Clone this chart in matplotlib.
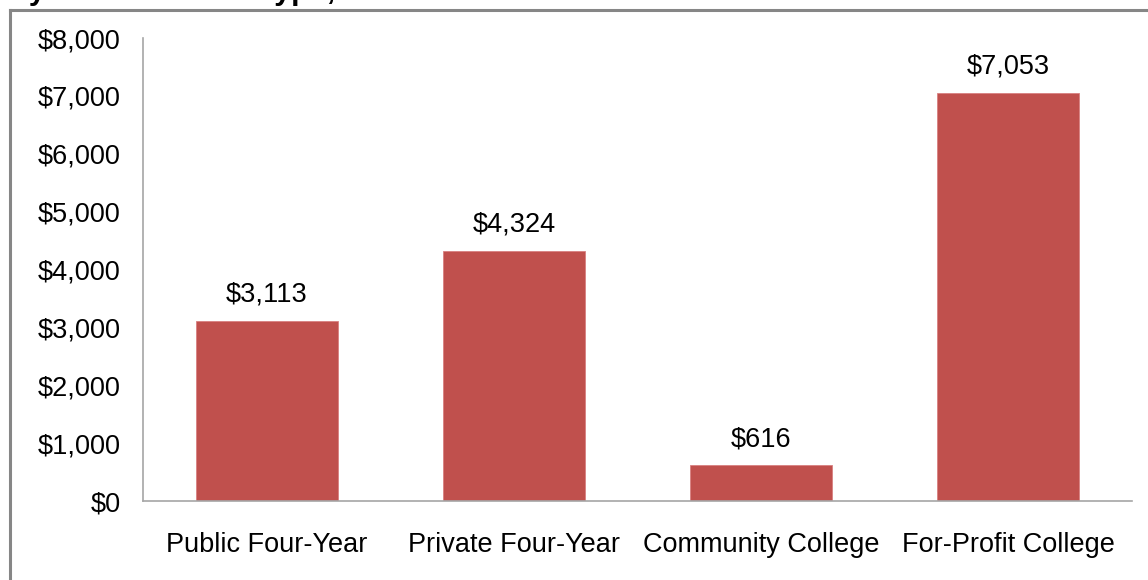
import matplotlib
matplotlib.use("Agg")
import matplotlib.pyplot as plt
from matplotlib.lines import Line2D

categories = ["Public Four-Year", "Private Four-Year", "Community College", "For-Profit College"]
values = [3113, 4324, 616, 7053]
yticks = [0, 1000, 2000, 3000, 4000, 5000, 6000, 7000, 8000]
ytick_labels = ["$0", "$1,000", "$2,000", "$3,000", "$4,000", "$5,000", "$6,000", "$7,000", "$8,000"]
value_labels = ["$3,113", "$4,324", "$616", "$7,053"]

plt.rcParams['font.family'] = ['Liberation Sans', 'DejaVu Sans']

W, H = 1148, 580
fig = plt.figure(figsize=(W / 100, H / 100), dpi=100)
fig.patch.set_facecolor("white")

left, right, top, bottom = 143, 1132, 38, 501
ax = fig.add_axes([left / W, 1 - bottom / H, (right - left) / W, (bottom - top) / H])

x = list(range(len(categories)))
ax.bar(x, values, width=0.575, color="#C0504D", edgecolor="#D98080", linewidth=0.6, zorder=2)
ax.set_xlim(-0.5, len(categories) - 0.5)
ax.set_ylim(0, 8000)
ax.set_yticks(yticks)
ax.set_yticklabels(ytick_labels)
ax.set_xticks(x)
ax.set_xticklabels(categories)
ax.tick_params(axis="both", length=0, labelsize=19.5, colors="black")
ax.tick_params(axis="y", pad=16)
ax.tick_params(axis="x", pad=22)

for s in ["top", "right"]:
    ax.spines[s].set_visible(False)
for s in ["left", "bottom"]:
    ax.spines[s].set_color("#A6A6A6")
    ax.spines[s].set_linewidth(1.2)

for xi, v, lab in zip(x, values, value_labels):
    ax.annotate(lab, (xi, v), xytext=(0, 9.5), textcoords="offset points",
                ha="center", va="bottom", fontsize=19.5, color="black")

# outer frame (left and top edges visible)
fig.add_artist(Line2D([9.5 / W, 9.5 / W], [0, 1 - 9.5 / H], transform=fig.transFigure,
                      color="#868686", linewidth=2.2))
fig.add_artist(Line2D([9.5 / W, 1], [1 - 9.5 / H, 1 - 9.5 / H], transform=fig.transFigure,
                      color="#868686", linewidth=2.2))

# title, mostly clipped above the image (as in the reference)
fig.text(46 / W, 1 + 1 / H, "Debt by", ha="right", va="baseline",
         fontsize=22, fontweight="bold", color="black")
fig.text(102 / W, 1 + 1 / H, "Institution Type, 2011", ha="left", va="baseline",
         fontsize=22, fontweight="bold", color="black")

fig.savefig("out.png", dpi=100, facecolor="white")
